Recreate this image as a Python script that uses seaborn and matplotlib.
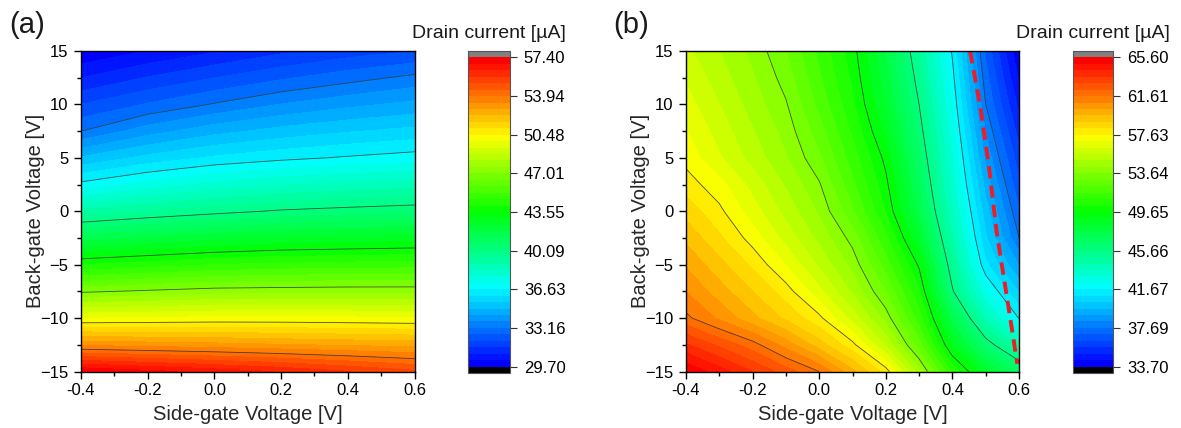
import numpy as np
import matplotlib
matplotlib.use("Agg")
import matplotlib.pyplot as plt
from matplotlib.colors import ListedColormap
from matplotlib.ticker import MultipleLocator
import seaborn as sns

# Grid of the maps (side-gate on x, back-gate on y)
side_gate_a = [-0.4, -0.2, 0.0, 0.2, 0.4, 0.6]
side_gate_b = [-0.4, -0.3, -0.2, -0.1, 0.0, 0.1, 0.2, 0.3, 0.4, 0.5, 0.6]
back_gate = [-15, -12.5, -10, -7.5, -5, -2.5, 0, 2.5, 5, 7.5, 10, 12.5, 15]

# Drain current [uA], one row per back-gate value (bottom to top)
current_a = [
    [57.40, 57.00, 56.60, 56.20, 55.70, 55.20],
    [53.25, 53.11, 52.99, 52.83, 52.70, 52.58],
    [49.88, 49.96, 50.04, 50.05, 50.01, 49.96],
    [46.90, 47.12, 47.33, 47.38, 47.42, 47.42],
    [44.11, 44.42, 44.70, 44.86, 44.93, 44.99],
    [41.52, 41.87, 42.21, 42.46, 42.58, 42.69],
    [39.09, 39.51, 39.86, 40.18, 40.36, 40.52],
    [36.81, 37.45, 37.94, 38.29, 38.51, 38.68],
    [34.96, 35.66, 36.15, 36.46, 36.70, 36.91],
    [33.16, 34.06, 34.69, 35.11, 35.42, 35.65],
    [32.01, 32.64, 33.22, 33.76, 34.16, 34.48],
    [30.85, 31.47, 32.00, 32.49, 32.92, 33.32],
    [29.75, 30.30, 30.80, 31.30, 31.70, 32.00],
]

current_b = [
    [65.55, 64.60, 63.60, 62.61, 61.61, 59.80, 57.99, 54.59, 50.82, 48.44, 46.70],
    [63.70, 62.80, 61.90, 60.67, 59.26, 57.85, 55.52, 52.57, 48.81, 46.18, 44.16],
    [61.79, 60.81, 59.81, 58.81, 57.81, 56.01, 54.04, 51.27, 47.43, 44.09, 41.64],
    [60.94, 59.94, 58.95, 57.95, 56.50, 54.84, 52.93, 50.40, 45.77, 42.49, 40.31],
    [60.20, 59.18, 58.16, 56.94, 55.51, 54.07, 51.97, 49.52, 45.04, 41.15, 38.98],
    [59.45, 58.42, 57.33, 56.05, 54.77, 53.37, 51.12, 48.36, 44.36, 40.46, 37.70],
    [58.70, 57.79, 56.62, 55.40, 54.18, 52.44, 50.26, 47.44, 43.78, 39.98, 37.10],
    [57.95, 57.22, 56.05, 54.89, 53.72, 51.81, 49.85, 46.95, 43.32, 39.42, 36.54],
    [57.40, 56.38, 55.37, 54.35, 53.10, 51.31, 49.44, 46.48, 43.00, 38.84, 35.97],
    [57.00, 56.01, 55.02, 54.04, 52.60, 50.86, 48.82, 46.05, 42.62, 38.29, 35.40],
    [56.60, 55.64, 54.67, 53.71, 52.10, 50.45, 48.28, 45.66, 42.25, 37.69, 34.84],
    [56.20, 55.29, 54.38, 53.35, 51.76, 50.17, 47.93, 45.29, 41.91, 37.30, 34.27],
    [55.80, 54.96, 54.12, 52.99, 51.46, 49.94, 47.62, 44.93, 41.57, 36.89, 33.75],
]

# colour scale ticks
cbar_ticks_a = [29.70, 33.16, 36.63, 40.09, 43.55, 47.01, 50.48, 53.94, 57.40]
cbar_labels_a = ["29.70", "33.16", "36.63", "40.09", "43.55", "47.01", "50.48", "53.94", "57.40"]
cbar_ticks_b = [33.70, 37.69, 41.67, 45.66, 49.65, 53.64, 57.63, 61.61, 65.60]
cbar_labels_b = ["33.70", "37.69", "41.67", "45.66", "49.65", "53.64", "57.63", "61.61", "65.60"]

# red dashed guide in panel (b)
dash_x = [0.453, 0.483, 0.508, 0.533, 0.563, 0.595]
dash_y = [15.0, 9.94, 4.63, -1.94, -7.9, -14.28]

n_bands = 48  # 6 colour steps between two labelled ticks

sns.set_theme(style="ticks", rc={"axes.edgecolor": "black", "xtick.color": "black",
                                 "ytick.color": "black", "text.color": "#1a1a1a"})
plt.rcParams["font.family"] = ["Liberation Sans", "DejaVu Sans"]

rainbow = ListedColormap(
    sns.blend_palette(["#0000ff", "#00ffff", "#00ff00", "#ffff00", "#ff0000"], n_colors=n_bands)
).with_extremes(over="#808080", under="#000000")

W, H = 1181, 428
fig = plt.figure(figsize=(W / 100, H / 100), dpi=100)


def draw_panel(ax, cax, xs, z, ticks, labels, tag, tag_x):
    levels = np.linspace(ticks[0], ticks[-1], n_bands + 1)
    step = n_bands // 8
    cf = ax.contourf(xs, back_gate, z, levels=levels, cmap=rainbow, extend="both")
    ax.contour(xs, back_gate, z, levels=levels[step:-1:step], colors="#333333",
               linewidths=0.6, alpha=0.85)
    ax.set_xlim(-0.4, 0.6)
    ax.set_ylim(-15, 15)
    ax.xaxis.set_major_locator(MultipleLocator(0.2))
    ax.xaxis.set_minor_locator(MultipleLocator(0.1))
    ax.yaxis.set_major_locator(MultipleLocator(5))
    ax.yaxis.set_minor_locator(MultipleLocator(2.5))
    ax.xaxis.set_major_formatter(lambda v, p: f"{v:.1f}")
    ax.tick_params(which="both", direction="out", width=1, labelsize=12, top=False, right=False)
    ax.tick_params(which="major", length=5)
    ax.tick_params(which="minor", length=3)
    ax.tick_params(axis="x", pad=3.5)
    ax.tick_params(axis="y", pad=4)
    for s in ax.spines.values():
        s.set_linewidth(1.0)
    ax.set_xlabel("Side-gate Voltage [V]", fontsize=14.5)
    ax.set_ylabel("Back-gate Voltage [V]", fontsize=14.5)
    ax.xaxis.set_label_coords(0.5, -0.105)
    ax.yaxis.set_label_coords(-0.107, 0.5)

    cb = fig.colorbar(cf, cax=cax, extendfrac=0.021, extendrect=True)
    cb.set_ticks(ticks, labels=labels)
    cb.minorticks_off()
    cb.outline.set_edgecolor("#555555")
    cb.outline.set_linewidth(0.8)
    cax.tick_params(direction="out", length=5, width=0.8, labelsize=12, pad=5, color="#333333")
    pos = cax.get_position()
    fig.text(pos.x0 + pos.width / 2, 1 - 33 / H, "Drain current [µA]",
             ha="center", va="center", fontsize=14)
    fig.text(tag_x / W, 1 - 25 / H, tag, ha="left", va="center", fontsize=21)


ax_a = fig.add_axes([81 / W, 56.5 / H, 333.5 / W, 320.5 / H])
cax_a = fig.add_axes([468.3 / W, 55 / H, 41.7 / W, 322 / H])
ax_b = fig.add_axes([686 / W, 56.5 / H, 333 / W, 320.5 / H])
cax_b = fig.add_axes([1072.7 / W, 55 / H, 40.6 / W, 322 / H])

draw_panel(ax_a, cax_a, side_gate_a, current_a, cbar_ticks_a, cbar_labels_a, "(a)", 9)
draw_panel(ax_b, cax_b, side_gate_b, current_b, cbar_ticks_b, cbar_labels_b, "(b)", 613)

ax_b.plot(dash_x, dash_y, color="#ee1c25", linewidth=2.8, linestyle=(0, (3.2, 1.8)),
          solid_capstyle="butt", dash_capstyle="butt", clip_on=True)

fig.savefig("out.png", dpi=100)
